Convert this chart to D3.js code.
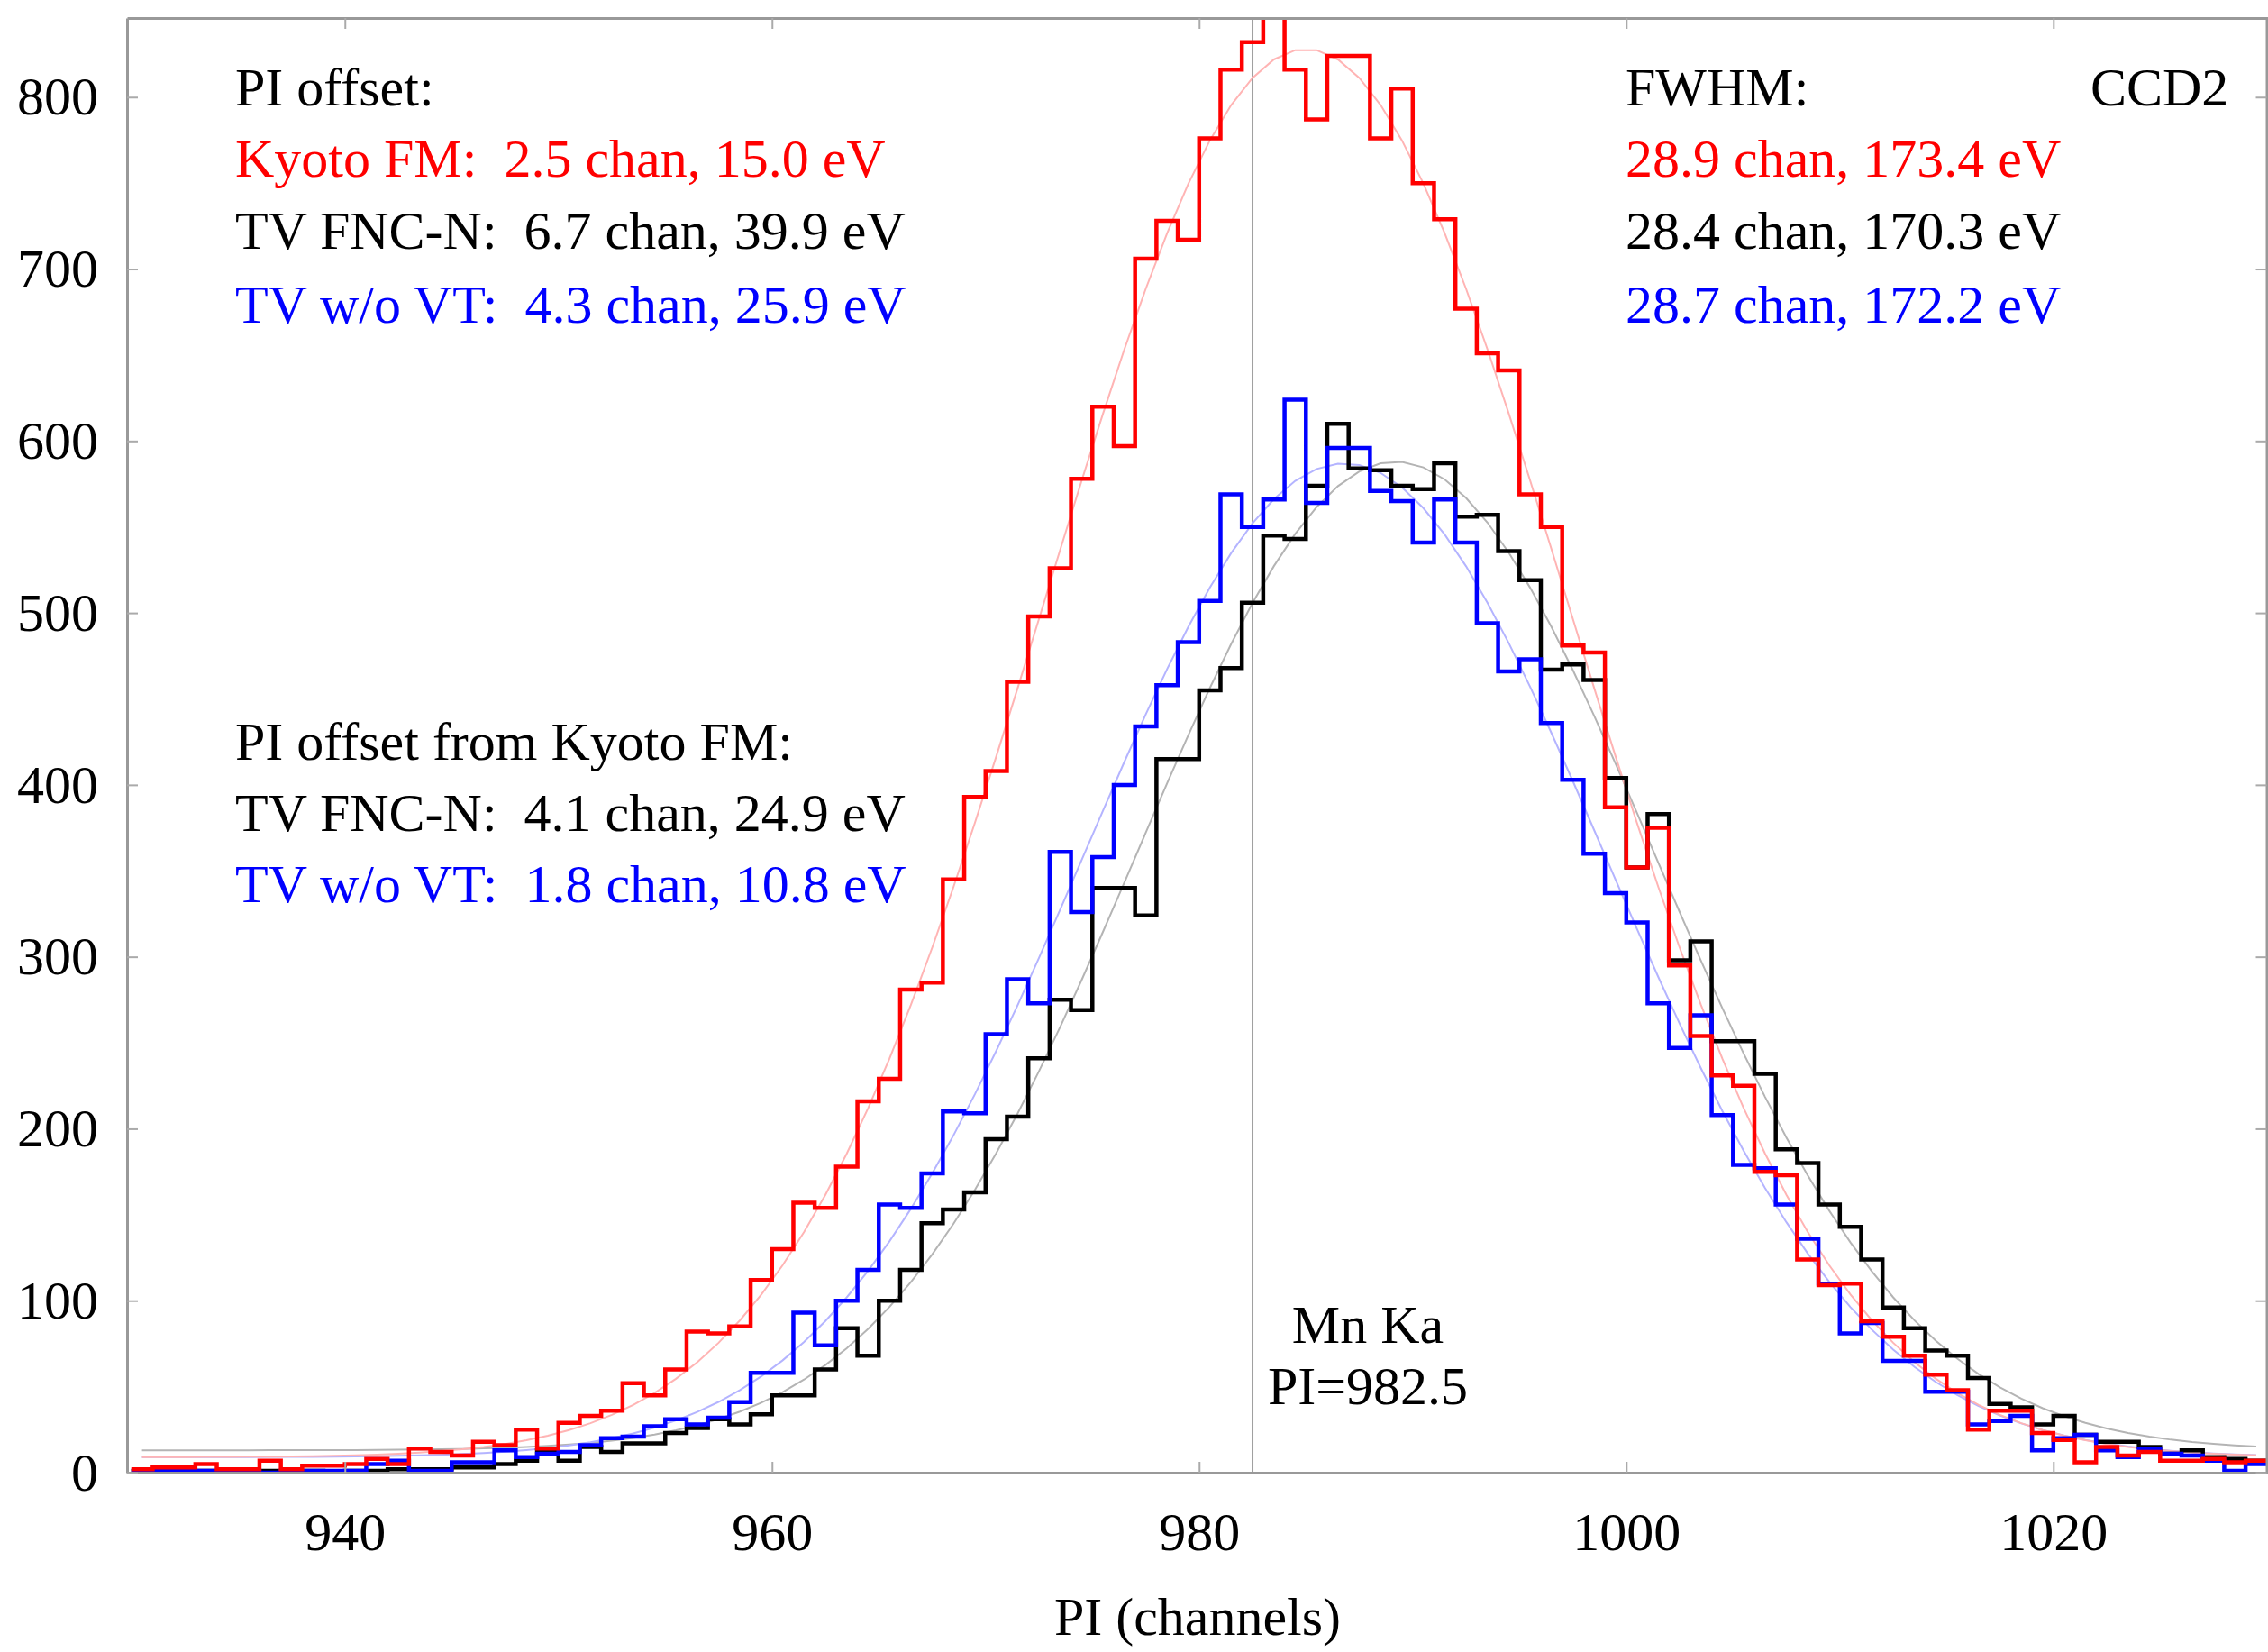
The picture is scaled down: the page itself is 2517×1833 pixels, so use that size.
<!DOCTYPE html>
<html>
<head>
<meta charset="utf-8">
<script src="https://cdn.jsdelivr.net/npm/d3@7"></script>
<style>
  body { margin: 0; background: #fff; }
  svg { display: block; }
  text { font-family: "Liberation Serif", "Times New Roman", serif; }
</style>
</head>
<body>
<div id="chart"></div>
<script>
// counts per PI channel, channel 930 .. 1029 (bin n covers [n, n+1])
const firstChannel = 930;

const kyotoCounts = [
  2, 3, 3, 5, 2, 2, 7, 2, 4, 4,            // 930
  5, 8, 5, 14, 12, 10, 18, 16, 25, 14,     // 940
  29, 33, 36, 52, 45, 60, 82, 81, 85, 112, // 950
  130, 157, 154, 178, 216, 229, 281, 285, 345, 393, // 960
  408, 460, 498, 526, 578, 620, 597, 706, 728, 717, // 970
  776, 816, 832, 848, 816, 787, 824, 824, 776, 805, // 980
  750, 729, 677, 651, 641, 569, 550, 481, 477, 387, // 990
  352, 375, 295, 254, 231, 225, 175, 173, 124, 109, // 1000
  110, 88, 79, 68, 57, 48, 25, 36, 36, 23,  // 1010
  19, 6, 15, 10, 12, 7, 7, 8, 6, 7         // 1020
];

const fncCounts = [
  1, 0, 1, 1, 0, 1, 1, 0, 1, 0,
  1, 1, 2, 2, 2, 3, 3, 5, 7, 13,
  7, 15, 12, 17, 17, 23, 26, 31, 28, 34,
  45, 45, 60, 84, 68, 100, 118, 145, 153, 163,
  194, 207, 241, 275, 269, 340, 340, 324, 415, 415,
  455, 468, 506, 545, 543, 574, 610, 584, 583, 574,
  572, 587, 556, 557, 536, 519, 467, 470, 461, 404,
  352, 383, 298, 309, 251, 251, 232, 188, 180, 156,
  143, 124, 96, 84, 71, 68, 55, 40, 38, 28,
  33, 22, 18, 18, 15, 11, 13, 9, 8, 7
];

const novtCounts = [
  1, 1, 1, 1, 1, 1, 0, 1, 1, 1,
  1, 5, 7, 1, 1, 6, 6, 13, 9, 11,
  12, 16, 20, 21, 27, 31, 28, 32, 41, 58,
  58, 93, 74, 100, 118, 156, 154, 174, 210, 209,
  255, 287, 273, 361, 326, 358, 400, 434, 458, 483,
  507, 569, 550, 566, 624, 564, 596, 596, 571, 565,
  541, 566, 541, 494, 466, 473, 436, 403, 360, 337,
  320, 273, 247, 266, 208, 179, 177, 156, 136, 110,
  81, 87, 65, 65, 47, 47, 28, 30, 33, 13,
  20, 22, 13, 9, 14, 11, 10, 7, 1, 5
];

// gaussian + constant fits (centre, FWHM in channels, amplitude, background)
const seriesNames = ["TV FNC-N", "TV w/o VT", "Kyoto FM"];
const seriesColors = ["#000000", "#0000ff", "#ff0000"];
const fitColors = ["#b4b4b4", "#b4b4ff", "#ffb4b4"];
const fitCenter = [989.2, 986.8, 985.0];
const fitFwhm = [28.4, 28.7, 28.9];
const fitAmp = [575, 578, 819];
const fitBg = [13, 9, 9];

const xTicks = [940, 960, 980, 1000, 1020];
const yTicks = [0, 100, 200, 300, 400, 500, 600, 700, 800];
const lineoPI = 982.5;

(function drawChart() {
  const width = 2517,
    height = 1833,
    margin = { top: 20, right: 0, bottom: 199, left: 141 },
    fontSize = 60;

  const svg = d3
    .select("#chart")
    .append("svg")
    .attr("width", width)
    .attr("height", height)
    .style("background", "#fff");

  const x = d3
    .scaleLinear()
    .domain([929.8, 1030.05])
    .range([margin.left, width - margin.right]);

  const y = d3
    .scaleLinear()
    .domain([0, 846])
    .range([height - margin.bottom, margin.top]);

  svg
    .append("clipPath")
    .attr("id", "plotClip")
    .append("rect")
    .attr("x", margin.left)
    .attr("y", margin.top)
    .attr("width", width - margin.left - margin.right)
    .attr("height", height - margin.top - margin.bottom);

  const plot = svg.append("g").attr("clip-path", "url(#plotClip)");

  // Mn Ka line
  plot
    .append("line")
    .attr("x1", x(lineoPI))
    .attr("x2", x(lineoPI))
    .attr("y1", y.range()[0])
    .attr("y2", y.range()[1])
    .attr("stroke", "#a0a0a0")
    .attr("stroke-width", 2);

  // fit curves, evaluated at bin centres
  const centres = d3.range(kyotoCounts.length).map((i) => firstChannel + i + 0.5);
  const fitLine = d3
    .line()
    .x((d) => x(d[0]))
    .y((d) => y(d[1]));

  fitCenter.forEach((c, k) => {
    const sigma = fitFwhm[k] / (2 * Math.sqrt(2 * Math.LN2));
    const pts = centres.map((e) => [
      e,
      fitBg[k] + fitAmp[k] * Math.exp(-((e - c) ** 2) / (2 * sigma * sigma)),
    ]);
    plot
      .append("path")
      .datum(pts)
      .attr("fill", "none")
      .attr("stroke", fitColors[k])
      .attr("stroke-width", 2)
      .attr("d", fitLine);
  });

  // step histograms
  const stepLine = d3
    .line()
    .curve(d3.curveStepAfter)
    .x((d) => x(d.ch))
    .y((d) => y(d.n));

  [fncCounts, novtCounts, kyotoCounts].forEach((counts, k) => {
    const pts = counts.map((n, i) => ({ ch: firstChannel + i, n: n }));
    pts.push({ ch: firstChannel + counts.length, n: counts[counts.length - 1] });
    plot
      .append("path")
      .datum(pts)
      .attr("fill", "none")
      .attr("stroke", seriesColors[k])
      .attr("stroke-width", 4.5)
      .attr("stroke-linejoin", "miter")
      .attr("d", stepLine);
  });

  // frame + inward ticks
  function styleAxis(g) {
    g.attr("font-family", null).attr("font-size", fontSize);
    g.selectAll(".domain").attr("stroke", "#999").attr("stroke-width", 3);
    g.selectAll(".tick line").attr("stroke", "#aaa").attr("stroke-width", 2);
    g.selectAll("text").attr("fill", "#000");
  }

  const fmt = d3.format("d");

  svg
    .append("g")
    .attr("transform", `translate(0,${y.range()[0]})`)
    .call(d3.axisBottom(x).tickValues(xTicks).tickFormat(fmt).tickSizeInner(-12).tickSizeOuter(0).tickPadding(43))
    .call(styleAxis);

  svg
    .append("g")
    .attr("transform", `translate(0,${y.range()[1]})`)
    .call(d3.axisTop(x).tickValues(xTicks).tickSizeInner(-12).tickSizeOuter(0).tickFormat(""))
    .call(styleAxis);

  svg
    .append("g")
    .attr("transform", `translate(${x.range()[0]},0)`)
    .call(d3.axisLeft(y).tickValues(yTicks).tickFormat(fmt).tickSizeInner(-12).tickSizeOuter(0).tickPadding(32))
    .call(styleAxis);

  svg
    .append("g")
    .attr("transform", `translate(${x.range()[1] - 1.5},0)`)
    .call(d3.axisRight(y).tickValues(yTicks).tickSizeInner(-12).tickSizeOuter(0).tickFormat(""))
    .call(styleAxis);

  // x label
  svg
    .append("text")
    .attr("x", (x.range()[0] + x.range()[1]) / 2)
    .attr("y", 1814)
    .attr("text-anchor", "middle")
    .attr("font-size", fontSize)
    .text("PI (channels)");

  // annotations
  const notes = [
    { t: "PI offset:", c: "#000", x: 261, y: 117 },
    { t: "Kyoto FM:  2.5 chan, 15.0 eV", c: "#ff0000", x: 261, y: 196 },
    { t: "TV FNC-N:  6.7 chan, 39.9 eV", c: "#000", x: 261, y: 276 },
    { t: "TV w/o VT:  4.3 chan, 25.9 eV", c: "#0000ff", x: 261, y: 358 },
    { t: "FWHM:", c: "#000", x: 1804, y: 117 },
    { t: "CCD2", c: "#000", x: 2320, y: 117 },
    { t: "28.9 chan, 173.4 eV", c: "#ff0000", x: 1804, y: 196 },
    { t: "28.4 chan, 170.3 eV", c: "#000", x: 1804, y: 276 },
    { t: "28.7 chan, 172.2 eV", c: "#0000ff", x: 1804, y: 358 },
    { t: "PI offset from Kyoto FM:", c: "#000", x: 261, y: 843 },
    { t: "TV FNC-N:  4.1 chan, 24.9 eV", c: "#000", x: 261, y: 922 },
    { t: "TV w/o VT:  1.8 chan, 10.8 eV", c: "#0000ff", x: 261, y: 1001 },
  ];

  svg
    .append("g")
    .selectAll("text")
    .data(notes)
    .join("text")
    .attr("x", (d) => d.x)
    .attr("y", (d) => d.y)
    .attr("fill", (d) => d.c)
    .attr("font-size", fontSize)
    .style("white-space", "pre")
    .text((d) => d.t);

  svg
    .append("g")
    .selectAll("text")
    .data(["Mn Ka", "PI=982.5"])
    .join("text")
    .attr("x", x(lineoPI) + 128)
    .attr("y", (d, i) => 1490 + i * 68)
    .attr("text-anchor", "middle")
    .attr("font-size", fontSize)
    .text((d) => d);
})();
</script>
</body>
</html>
